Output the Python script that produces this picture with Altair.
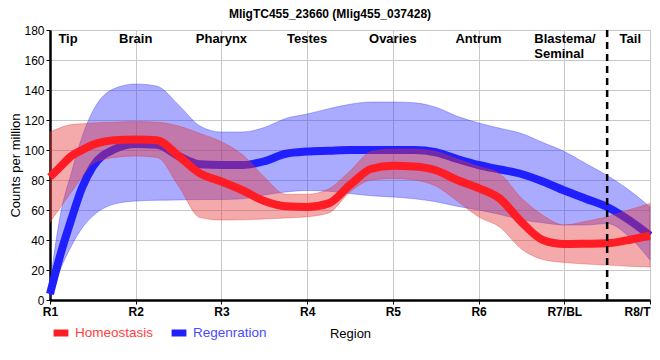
import altair as alt
import pandas as pd

chart_title = "MligTC455_23660 (Mlig455_037428)"
series_names = ["Homeostasis", "Regenration"]
line_colors = ["#ff1c24", "#2020ff"]
band_colors = ["#e53535", "#3535ff"]
label_colors = ["#ff4040", "#4a4aff"]

x_ticks = [0, 1, 2, 3, 4, 5, 6, 7]
x_tick_labels = ["R1", "R2", "R3", "R4", "R5", "R6", "R7/BL", "R8/T"]
y_ticks = [0, 20, 40, 60, 80, 100, 120, 140, 160, 180]

pos = [0, 0.125, 0.25, 0.375, 0.5, 0.75, 1, 1.25, 1.5, 1.75, 2, 2.25, 2.5, 2.75, 3,
       3.25, 3.5, 3.75, 4, 4.25, 4.5, 4.75, 5, 5.25, 5.5, 5.75, 6, 6.25, 6.5, 6.75, 7]

homeo_mean = [82, 89, 96, 100, 103.5, 106.5, 107, 106.5, 96, 84.4, 79, 73, 66, 62.5, 62,
              64.4, 76.7, 87.5, 89.5, 89, 86.5, 80, 74.6, 67.5, 52, 40, 37.3, 37.5, 37.8, 40, 43]
homeo_upper = [112, 115, 117, 117.5, 118, 118.5, 119, 118.5, 116, 111, 105.5, 96.7, 82, 70.5, 70.5,
               74, 86, 99, 100.5, 100.5, 99, 94, 89, 84, 68, 56.5, 50, 52.5, 55.5, 60, 64.4]
homeo_lower = [52, 62, 72, 82, 91, 95, 96, 95, 76, 55, 53.3, 53.5, 54, 54.7, 55.5,
               58, 72, 80, 81, 80, 76, 66, 55.5, 48.5, 34, 27, 25, 24, 23.3, 22.5, 22]

regen_mean = [4, 31, 54, 75, 89, 100.5, 104, 103.5, 96, 90.5, 90, 90, 92.5, 97.5, 99,
              99.5, 100, 100, 100, 100, 98.5, 94, 90, 87, 84, 79, 73, 67.5, 62, 53.5, 43]
regen_upper = [11, 58, 85, 109, 126, 141, 144, 142.5, 130, 116, 112, 112, 115, 121, 124,
               127.5, 130.5, 132, 132, 131.5, 128.5, 122.5, 118, 114.5, 111, 105, 99, 91, 83, 73.5, 62]
regen_lower = [1, 21, 36, 48, 56, 64, 66, 66.5, 66.7, 67, 67, 67.5, 70, 72, 73,
               72.5, 71, 69.5, 68.7, 67.5, 65.5, 62.5, 60, 57, 53.5, 51.5, 50, 50, 51, 42.5, 26.7]

region_names = ["Tip", "Brain", "Pharynx", "Testes", "Ovaries", "Antrum", "Tail"]
region_pos = [0.21, 1, 2, 3, 4, 5, 6.77]
blastema_lines = ["Blastema/", "Seminal"]
blastema_pos = [5.65]
boundary_pos = [6.5]

rows = []
for name, m, lo, hi in [(series_names[0], homeo_mean, homeo_lower, homeo_upper),
                        (series_names[1], regen_mean, regen_lower, regen_upper)]:
    for p, a, b, c in zip(pos, m, lo, hi):
        rows.append({"pos": p, "series": name, "mean": a, "lower": b, "upper": c})
df = pd.DataFrame(rows)

labels_df = pd.DataFrame({"pos": region_pos, "name": region_names})
blast_df = pd.DataFrame({"pos": blastema_pos, "name": ["\n".join(blastema_lines)]})
bound_df = pd.DataFrame({"pos": boundary_pos})

label_expr = "[" + ",".join("'" + s + "'" for s in x_tick_labels) + "][round(datum.value)]"

x_axis = alt.Axis(values=x_ticks, labelExpr=label_expr, title="Region",
                  labelFontWeight="bold", labelFontSize=12, labelColor="black",
                  labelFlush=False,
                  labelOffset={"condition": {"test": "datum.value == 7", "value": -13}, "value": 0},
                  titleFontSize=13, titleFontWeight="normal", titleColor="black",
                  titlePadding=10, tickSize=4, labelPadding=2,
                  domainColor="black", domainWidth=2.5, tickColor="black",
                  gridColor="#c8c8c8", grid=True)
y_axis = alt.Axis(values=y_ticks, title="Counts per million",
                  labelFontSize=12, labelColor="black",
                  titleFontSize=13, titleFontWeight="normal", titleColor="black",
                  titlePadding=1, tickSize=4, labelPadding=2,
                  domainColor="black", domainWidth=2.5, tickColor="black",
                  gridColor="#c8c8c8", grid=True)

x_scale = alt.Scale(domain=[0, 7], nice=False, zero=False)
y_scale = alt.Scale(domain=[0, 180], nice=False)


def xe():
    return alt.X("pos:Q", scale=x_scale, axis=x_axis)


def band(i):
    return alt.Chart(df).transform_filter(
        alt.datum.series == series_names[i]
    ).mark_area(interpolate="monotone", fill=band_colors[i], fillOpacity=0.42,
                stroke=band_colors[i], strokeOpacity=0.35, strokeWidth=1).encode(
        x=xe(),
        y=alt.Y("lower:Q", scale=y_scale, axis=y_axis),
        y2="upper:Q",
    )


color_enc = alt.Color(
    "series:N",
    scale=alt.Scale(domain=series_names, range=line_colors),
    legend=alt.Legend(
        title=None, orient="none", legendX=0, legendY=292, direction="horizontal",
        symbolType="stroke", symbolStrokeWidth=7, symbolSize=220,
        labelFontSize=13.5, labelOffset=3, columnPadding=3, padding=0,
        gridAlign="none",
        labelColor=alt.ExprRef("datum.label == '" + series_names[0] + "' ? '" + label_colors[0] + "' : '" + label_colors[1] + "'"),
    ),
)


def line(i):
    return alt.Chart(df).transform_filter(
        alt.datum.series == series_names[i]
    ).mark_line(interpolate="monotone", strokeWidth=8, strokeCap="butt").encode(
        x=xe(),
        y=alt.Y("mean:Q", scale=y_scale, axis=y_axis),
        color=color_enc,
    )


rule = alt.Chart(bound_df).mark_rule(color="black", strokeWidth=2.5, strokeDash=[7, 5]).encode(
    x=xe()
)

region_text = alt.Chart(labels_df).mark_text(
    fontWeight="bold", fontSize=13, baseline="top", align="center", dy=3, color="black"
).encode(
    x=xe(),
    y=alt.YDatum(180, scale=y_scale, axis=y_axis),
    text="name:N",
)

blast_text = alt.Chart(blast_df).mark_text(
    fontWeight="bold", fontSize=13, baseline="top", align="left", dy=3, color="black",
    lineBreak="\n", lineHeight=15
).encode(
    x=xe(),
    y=alt.YDatum(180, scale=y_scale, axis=y_axis),
    text="name:N",
)

chart = alt.layer(
    band(1), line(1), band(0), line(0), rule, region_text, blast_text
).properties(
    width=600, height=270,
    title=alt.TitleParams(chart_title, fontSize=12, fontWeight="bold", anchor="middle",
                          dx=-20, offset=3, color="black"),
    padding={"left": 42, "top": 22, "right": 2, "bottom": 45},
    autosize=alt.AutoSizeParams(type="none"),
).configure_view(
    stroke="black", strokeWidth=1
).configure(
    font="Liberation Sans"
)

chart.save("out.html", embed_options={"renderer": "svg", "actions": False})
